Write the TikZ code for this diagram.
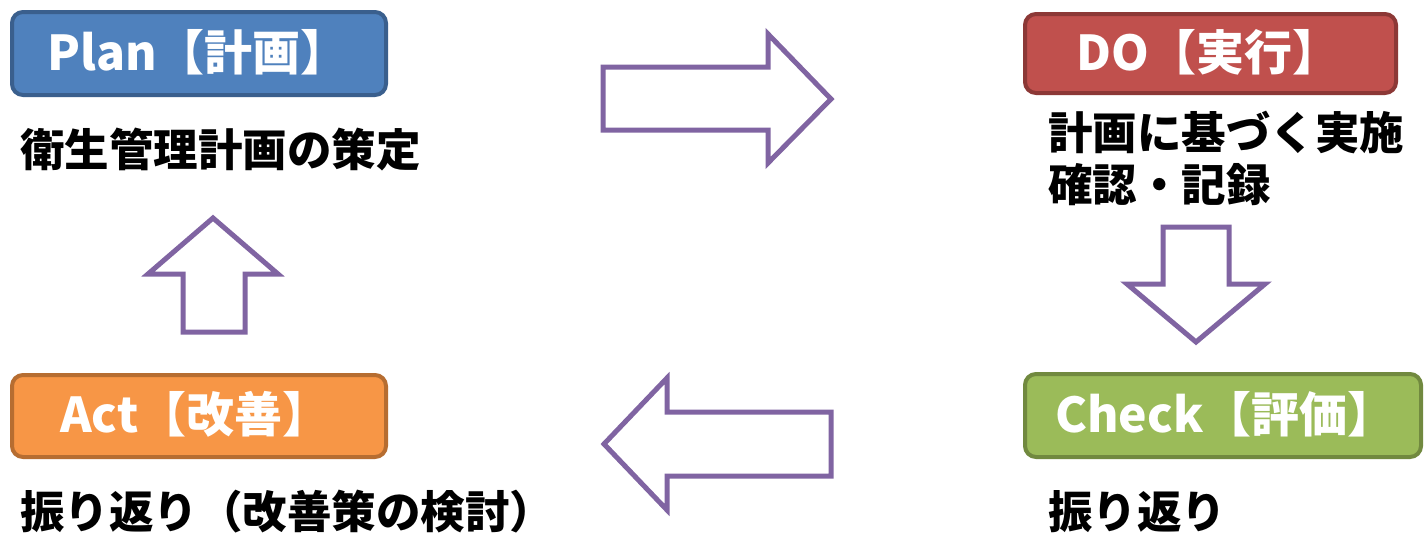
\documentclass[tikz,border=0pt]{standalone}
\usepackage{fontspec}
\setmainfont{Noto Sans CJK JP}
\definecolor{planF}{HTML}{4F81BD}\definecolor{planD}{HTML}{3A5F8D}
\definecolor{doF}{HTML}{C0504D}\definecolor{doD}{HTML}{8C3836}
\definecolor{chkF}{HTML}{9BBB59}\definecolor{chkD}{HTML}{71893F}
\definecolor{actF}{HTML}{F79646}\definecolor{actD}{HTML}{B66D31}
\definecolor{arr}{HTML}{8064A2}
\tikzset{
  phasebox/.style={line width=4pt, rounded corners=11pt},
  boxtext/.style={anchor=west, inner sep=0pt, text=white, font=\fontsize{48}{52}\selectfont\bfseries},
  bodytext/.style={anchor=west, inner sep=0pt, text=black, font=\fontsize{44.5}{48}\selectfont\bfseries},
  blockarrow/.style={draw=arr, line width=5pt, fill=white, line join=miter}
}
\begin{document}
\begin{tikzpicture}[x=1pt,y=-1pt]
\useasboundingbox[fill=white] (0,0) rectangle (1424,533);
% boxes
\draw[phasebox, fill=planF, draw=planD] (12,12) rectangle (386,95);
\draw[phasebox, fill=doF, draw=doD] (1025,14) rectangle (1396,93);
\draw[phasebox, fill=chkF, draw=chkD] (1025,374) rectangle (1421,457);
\draw[phasebox, fill=actF, draw=actD] (12,375) rectangle (386,457);
% box texts
\node[boxtext] (plan) at (47,52) {Plan【計画】};
\node[boxtext] (do) at (1076,52) {DO【実行】};
\node[boxtext] (check) at (1055,414) {Check【評価】};
\node[boxtext] (act) at (60,414) {Act【改善】};
% body texts
\node[bodytext] (plant) at (20,150) {衛生管理計画の策定};
\node[bodytext] (dot1) at (1048,132) {計画に基づく実施};
\node[bodytext] (dot2) at (1048,185) {確認・記録};
\node[bodytext] (actt) at (20,512) {振り返り（改善策の検討）};
\node[bodytext] (chkt) at (1048,512) {振り返り};
% block arrows
\draw[blockarrow] (603,67) -- (768,67) -- (768,34) -- (831,99) -- (768,163) -- (768,130) -- (603,130) -- cycle;
\draw[blockarrow] (1163,227) -- (1229,227) -- (1229,284) -- (1265,284) -- (1196,342) -- (1127,284) -- (1163,284) -- cycle;
\draw[blockarrow] (831,412) -- (667,412) -- (667,378) -- (604,444) -- (667,510) -- (667,476) -- (831,476) -- cycle;
\draw[blockarrow] (183,332) -- (245,332) -- (245,274) -- (278,274) -- (213,218) -- (148,274) -- (183,274) -- cycle;
\end{tikzpicture}
\end{document}
